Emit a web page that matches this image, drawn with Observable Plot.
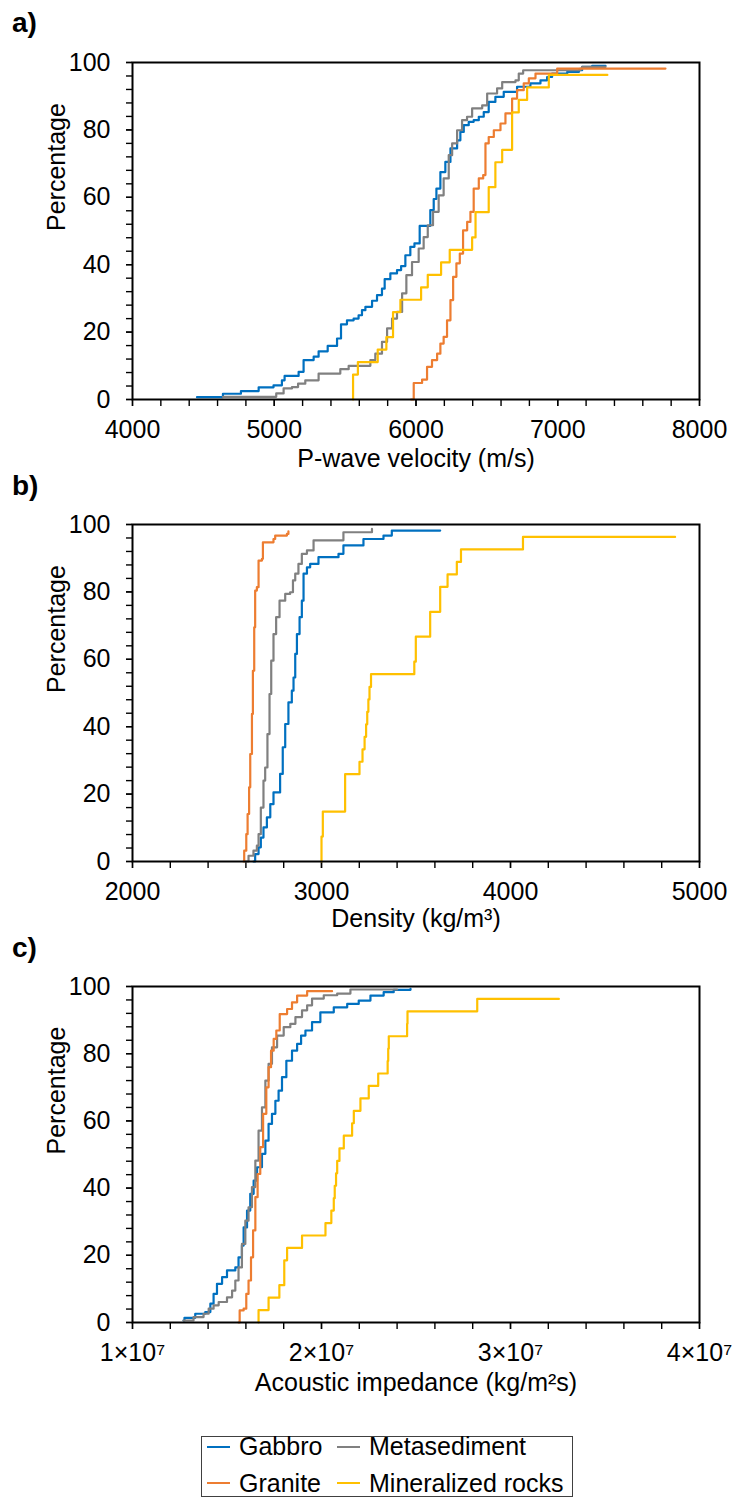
<!DOCTYPE html>
<html><head><meta charset="utf-8">
<script src="https://cdn.jsdelivr.net/npm/d3@7"></script>
<script src="https://cdn.jsdelivr.net/npm/@observablehq/plot@0.6"></script>
<style>
body{margin:0;background:#fff;font-family:"Liberation Sans",Arial,sans-serif;color:#000;}
#wrap{position:relative;width:740px;height:1497px;overflow:hidden;background:#fff;}
.pl{position:absolute;left:0;display:block;}
.lab{position:absolute;left:12px;font-weight:bold;font-size:28px;line-height:28px;}
#legend{position:absolute;left:201px;top:1436px;width:370px;height:59px;border:1px solid #404040;}
.lt{position:absolute;font-size:25px;line-height:25px;white-space:nowrap;}
.sw{position:absolute;height:2px;width:23px;}
</style></head><body><div id="wrap"></div>
<script>
// Series (legend order)
const seriesNames = ["Gabbro", "Metasediment", "Granite", "Mineralized rocks"];
const seriesColors = ["#0070C0", "#808080", "#ED7D31", "#FFC000"];

// Y ticks
const yMajor = [0, 20, 40, 60, 80, 100];
const yMinor = [0,4,8,12,16,20,24,28,32,36,40,44,48,52,56,60,64,68,72,76,80,84,88,92,96,100];

// a) P-wave velocity (m/s) vs cumulative percentage  [value, %]
const vpGabbro = [[4455,0.7],[4638,1.7],[4765,2.5],[4890,3.6],[4995,4.2],[5054,5.7],[5073,7.0],[5172,8.2],[5207,11.7],[5278,12.7],[5313,14.3],[5377,15.9],[5443,18.1],[5471,22.3],[5513,23.5],[5560,24.0],[5595,25.0],[5619,26.5],[5643,27.5],[5690,29.3],[5725,31.0],[5760,32.9],[5779,35.7],[5819,37.4],[5866,38.4],[5895,39.6],[5925,42.8],[5960,45.3],[5989,46.3],[6026,51.5],[6101,56.2],[6125,59.5],[6144,62.6],[6172,67.5],[6207,70.5],[6243,74.5],[6290,76.9],[6313,79.4],[6337,81.4],[6372,82.4],[6407,82.9],[6443,83.9],[6478,85.3],[6513,88.3],[6560,89.8],[6619,91.3],[6713,92.8],[6807,93.8],[6878,94.7],[6925,95.7],[6960,96.7],[7067,97.2],[7149,97.7],[7172,98.7],[7243,99.0],[7337,99.0]];
const vpMetased = [[4638,0.8],[5014,1.8],[5066,3.3],[5125,3.7],[5168,4.7],[5219,5.7],[5313,7.7],[5466,9.0],[5525,10.0],[5678,11.7],[5713,13.6],[5760,17.1],[5796,21.1],[5831,24.0],[5866,26.0],[5902,31.5],[5932,36.9],[5972,40.8],[6019,44.8],[6054,48.2],[6083,51.7],[6120,55.7],[6160,60.6],[6195,65.6],[6231,72.5],[6255,76.0],[6290,79.9],[6325,82.9],[6360,83.9],[6396,86.4],[6467,87.3],[6502,90.8],[6572,92.3],[6608,94.2],[6702,94.7],[6725,96.7],[6756,97.7],[7160,98.2],[7172,98.7],[7337,98.7]];
const vpGranite = [[5965,0],[5984,4.9],[6043,5.9],[6078,9.7],[6113,11.7],[6149,13.6],[6172,16.6],[6195,18.6],[6219,23.5],[6243,29.5],[6262,36.4],[6285,40.4],[6309,43.3],[6332,50.2],[6361,52.7],[6384,55.7],[6407,62.6],[6443,65.6],[6474,66.6],[6490,76.0],[6513,77.9],[6549,79.9],[6596,81.9],[6631,84.9],[6678,89.3],[6713,91.8],[6760,93.8],[6796,95.3],[6843,96.7],[6996,98.2],[7760,98.2]];
const vpMineral = [[5556,0],[5556,7.4],[5590,11.1],[5730,14.8],[5791,18.5],[5838,25.9],[5890,29.6],[6036,33.3],[6083,37.0],[6177,40.7],[6238,44.4],[6396,48.1],[6420,55.6],[6513,63.0],[6560,70.4],[6608,74.1],[6678,85.2],[6725,88.9],[6784,92.6],[6937,96.3],[7350,96.3]];

// b) Density (kg/m3)
const dGabbro = [[2640,0],[2649,2.2],[2667,4.2],[2679,7.1],[2693,10.1],[2711,13.1],[2729,17.0],[2746,20.5],[2781,26.0],[2795,33.9],[2808,40.8],[2825,47.2],[2843,50.7],[2852,54.6],[2861,61.6],[2870,67.5],[2884,72.5],[2896,77.4],[2905,85.4],[2923,87.3],[2940,88.3],[2984,90.3],[3090,91.3],[3116,93.8],[3222,95.7],[3328,96.7],[3372,98.2],[3628,98.2]];
const dMetased = [[2596,0],[2614,1.7],[2640,3.2],[2658,4.7],[2667,8.1],[2679,16.0],[2693,24.0],[2702,27.9],[2714,37.8],[2725,49.7],[2734,59.6],[2746,67.5],[2760,72.5],[2778,77.4],[2808,79.4],[2834,79.9],[2849,83.4],[2861,85.4],[2878,88.3],[2896,91.3],[2923,92.3],[2958,95.3],[3116,97.7],[3260,97.7],[3267,98.7]];
const dGranite = [[2587,0],[2591,3.2],[2602,8.1],[2609,14.1],[2617,22.0],[2623,31.9],[2632,43.8],[2637,56.6],[2644,69.5],[2649,80.4],[2658,81.4],[2667,89.3],[2685,89.8],[2690,94.7],[2746,95.7],[2755,96.7],[2817,97.2],[2825,98.0]];
const dMineral = [[3000,0],[3000,7.4],[3007,14.8],[3125,25.9],[3201,29.6],[3217,33.3],[3228,37.0],[3236,40.7],[3242,44.4],[3248,48.1],[3254,51.8],[3262,55.6],[3491,59.3],[3499,66.7],[3575,74.1],[3628,81.5],[3667,85.2],[3716,88.9],[3738,92.6],[4066,96.3],[4871,96.3]];

// c) Acoustic impedance (kg/m2s)
const aiGabbro = [[1.270e7,0.6],[1.275e7,1.4],[1.332e7,2.6],[1.385e7,3.1],[1.412e7,5.6],[1.429e7,8.5],[1.447e7,11.5],[1.474e7,13.5],[1.500e7,15.5],[1.544e7,16.4],[1.561e7,19.4],[1.579e7,22.9],[1.588e7,28.3],[1.606e7,33.3],[1.623e7,38.3],[1.641e7,42.2],[1.659e7,46.2],[1.685e7,50.2],[1.703e7,54.1],[1.720e7,59.1],[1.738e7,62.1],[1.756e7,66.0],[1.773e7,69.0],[1.791e7,73.0],[1.814e7,77.9],[1.844e7,80.9],[1.871e7,82.9],[1.892e7,85.4],[1.915e7,86.9],[1.950e7,89.4],[1.994e7,92.3],[2.065e7,93.8],[2.136e7,94.8],[2.197e7,95.8],[2.259e7,97.3],[2.329e7,98.3],[2.382e7,99.0],[2.471e7,99.3]];
const aiMetased = [[1.270e7,0.6],[1.323e7,1.6],[1.376e7,2.6],[1.403e7,4.1],[1.429e7,5.1],[1.456e7,6.1],[1.500e7,7.5],[1.527e7,9.5],[1.544e7,12.5],[1.561e7,16.4],[1.579e7,23.4],[1.597e7,30.3],[1.614e7,34.3],[1.632e7,40.3],[1.650e7,48.2],[1.667e7,57.1],[1.685e7,64.0],[1.703e7,72.0],[1.720e7,77.0],[1.738e7,81.9],[1.765e7,85.4],[1.800e7,87.9],[1.835e7,88.9],[1.862e7,90.9],[1.897e7,92.9],[1.924e7,94.4],[1.950e7,96.4],[2.012e7,97.4],[2.083e7,97.9],[2.153e7,99.1],[2.400e7,99.1]];
const aiGranite = [[1.561e7,0],[1.567e7,3.6],[1.588e7,4.1],[1.602e7,8.5],[1.614e7,12.5],[1.627e7,19.4],[1.638e7,27.4],[1.650e7,37.3],[1.662e7,44.2],[1.676e7,52.2],[1.691e7,62.1],[1.708e7,70.0],[1.720e7,76.0],[1.733e7,80.9],[1.747e7,84.4],[1.761e7,86.9],[1.779e7,91.8],[1.818e7,93.3],[1.844e7,95.3],[1.871e7,97.3],[1.924e7,98.6],[2.056e7,98.6]];
const aiMineral = [[1.667e7,0],[1.667e7,3.7],[1.720e7,7.4],[1.777e7,11.1],[1.803e7,18.5],[1.818e7,22.2],[1.897e7,25.9],[2.021e7,29.6],[2.052e7,33.3],[2.065e7,37.0],[2.070e7,40.7],[2.077e7,44.4],[2.083e7,48.1],[2.095e7,51.8],[2.118e7,55.6],[2.162e7,59.3],[2.171e7,63.0],[2.206e7,66.7],[2.250e7,70.4],[2.300e7,74.1],[2.350e7,77.8],[2.353e7,81.5],[2.356e7,85.2],[2.453e7,88.9],[2.455e7,92.6],[2.824e7,96.3],[3.256e7,96.3]];

// X ticks
const vpMajor = [4000, 5000, 6000, 7000, 8000];
const dMajor = [2000, 3000, 4000, 5000];
const aiMajor = [1e7, 2e7, 3e7, 4e7];
const aiTickLabels = ["1×10⁷", "2×10⁷", "3×10⁷", "4×10⁷"];

const wrap = document.getElementById("wrap");

function rowsOf(list) {
  return list.flatMap((arr, i) => arr.map(([x, y]) => ({series: seriesNames[i], x, y})));
}

function panel(o) {
  const svg = Plot.plot({
    width: 740, height: o.height,
    marginLeft: 132, marginRight: 41, marginTop: o.mt, marginBottom: o.mb,
    style: {fontFamily: '"Liberation Sans", Arial, sans-serif', fontSize: "25px", color: "#000", background: "transparent", overflow: "visible"},
    x: {domain: o.domain},
    y: {domain: [0, 100]},
    color: {domain: seriesNames, range: seriesColors},
    marks: [
      Plot.axisY({ticks: yMinor, tickSize: 6, tickFormat: () => "", label: null, strokeWidth: 1.4}),
      Plot.axisY({ticks: yMajor, tickSize: 6, tickPadding: 16, tickFormat: d => String(d), label: null, strokeWidth: 1.4, fontSize: 25}),
      Plot.axisX({ticks: o.minor, tickSize: 7, tickFormat: () => "", label: null, strokeWidth: 1.4}),
      Plot.axisX({ticks: o.major, tickSize: 7, tickPadding: 14, tickFormat: o.fmt, label: null, strokeWidth: 1.4, fontSize: 25}),
      Plot.line(rowsOf(o.series), {x: "x", y: "y", z: "series", stroke: "series", curve: "step-after", strokeWidth: 2.2}),
      Plot.frame({stroke: "#000", strokeWidth: 2}),
      Plot.text([o.xlabel], {frameAnchor: "bottom", dy: o.dy, text: d => d, fontSize: 25, fill: "#000"}),
      Plot.text(["Percentage"], {frameAnchor: "left", dx: -76, rotate: -90, text: d => d, fontSize: 25, fill: "#000"})
    ]
  });
  svg.classList.add("pl");
  svg.style.top = o.top + "px";
  wrap.appendChild(svg);
  const lab = document.createElement("div");
  lab.className = "lab";
  lab.textContent = o.letter;
  lab.style.top = o.letterTop + "px";
  wrap.appendChild(lab);
}

panel({top: 0, height: 470, mt: 62, mb: 71, domain: [4000, 8000],
  major: vpMajor, minor: d3.range(4000, 8001, 200), fmt: d => String(d),
  series: [vpGabbro, vpMetased, vpGranite, vpMineral],
  xlabel: "P-wave velocity (m/s)", dy: 67, letter: "a)", letterTop: 9});

panel({top: 470, height: 460, mt: 54, mb: 69, domain: [2000, 5000],
  major: dMajor, minor: d3.range(2000, 5001, 200), fmt: d => String(d),
  series: [dGabbro, dMetased, dGranite, dMineral],
  xlabel: "Density (kg/m³)", dy: 65, letter: "b)", letterTop: 472});

panel({top: 930, height: 480, mt: 56, mb: 88, domain: [1e7, 4e7],
  major: aiMajor, minor: d3.range(10, 41, 2).map(d => d * 1e6), fmt: d => aiTickLabels[aiMajor.indexOf(d)],
  series: [aiGabbro, aiMetased, aiGranite, aiMineral],
  xlabel: "Acoustic impedance (kg/m²s)", dy: 68, letter: "c)", letterTop: 934});

// Legend
const legend = document.createElement("div");
legend.id = "legend";
wrap.appendChild(legend);
const legendPos = [[0, 0], [1, 0], [0, 1], [1, 1]]; // Gabbro, Metasediment, Granite, Mineralized rocks
seriesNames.forEach((name, i) => {
  const [col, row] = legendPos[i];
  const sw = document.createElement("div");
  sw.className = "sw";
  sw.style.background = seriesColors[i];
  sw.style.left = (col ? 135 : 5) + "px";
  sw.style.top = (row ? 45 : 9) + "px";
  legend.appendChild(sw);
  const t = document.createElement("div");
  t.className = "lt";
  t.textContent = name;
  t.style.left = (col ? 167 : 37) + "px";
  t.style.top = (row ? 34 : -3) + "px";
  legend.appendChild(t);
});
</script></body></html>
